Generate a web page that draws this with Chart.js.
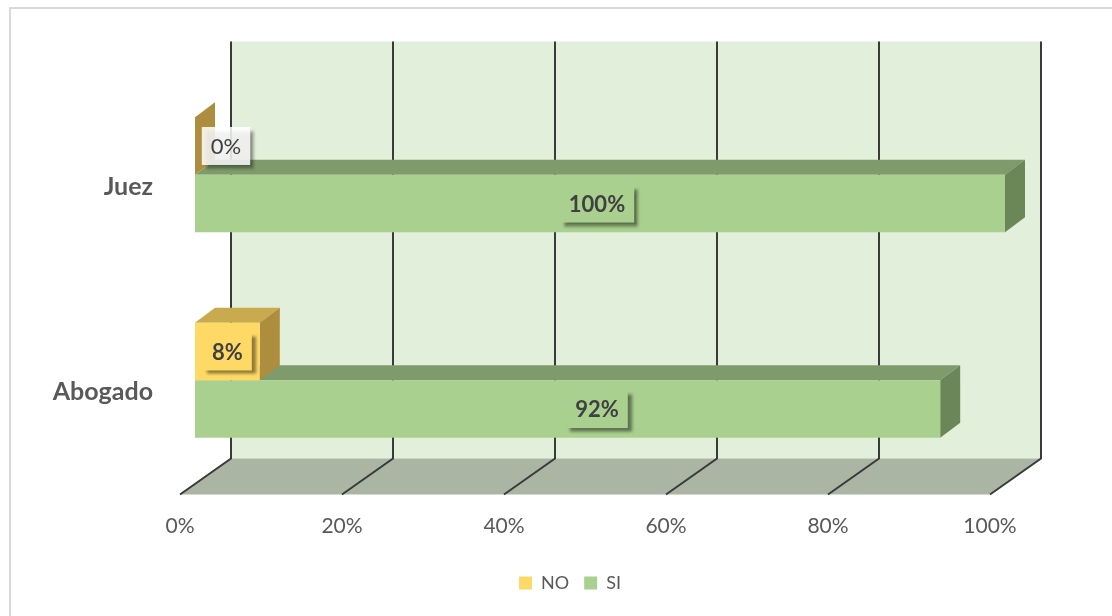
<!DOCTYPE html>
<html lang="es">
<head>
<meta charset="utf-8">
<title>Abogado / Juez</title>
<script src="https://cdn.jsdelivr.net/npm/chart.js@4.4.1/dist/chart.umd.min.js"></script>
<style>
  html, body { margin: 0; padding: 0; background: #fff; }
  #grafico { display: block; }
</style>
</head>
<body>
<canvas id="grafico" width="1112" height="616"></canvas>
<script>
// Datos del gráfico
const categorias = ['Juez', 'Abogado'];
const valoresNo = [0, 8];
const valoresSi = [100, 92];
const ticksX = [0, 20, 40, 60, 80, 100];

// Colores de cada cara de las barras
const coloresNo = { frente: '#FFD966', arriba: '#C9AA4E', lado: '#AD8E3E' };
const coloresSi = { frente: '#A9D08E', arriba: '#7F9B6B', lado: '#6B8757' };

const FUENTE = 'Lato, "Open Sans", sans-serif';
const PROF = { dx: 20, dy: -15 };   // profundidad de las barras
const PARED = { dx: 36, dyTop: -30.5, dyBottom: -24.5, piso: 11.5, frente: -15 };
const LEYENDA_DX = 47.5;            // corrimiento de la leyenda hacia la derecha

function poligono(ctx, pts, color) {
    ctx.beginPath();
    ctx.moveTo(pts[0][0], pts[0][1]);
    for (let i = 1; i < pts.length; i++) ctx.lineTo(pts[i][0], pts[i][1]);
    ctx.closePath();
    ctx.fillStyle = color;
    ctx.fill();
}

// ===================
// Pared del fondo, piso y líneas de división
// ===================
const fondo3D = {
    id: 'fondo3D',
    afterLayout(chart) {
        chart.legend.left += LEYENDA_DX;
        chart.legend.right += LEYENDA_DX;
    },
    beforeDraw(chart) {
        const ctx = chart.ctx;
        ctx.save();
        ctx.strokeStyle = '#D9D9D9';
        ctx.lineWidth = 2;
        ctx.strokeRect(10, 8, 1200, 700);
        ctx.restore();
    },
    beforeDatasetsDraw(chart) {
        const { ctx, chartArea: a, scales: { x } } = chart;
        const x0 = x.getPixelForValue(ticksX[0]);
        const x1 = x.getPixelForValue(ticksX[ticksX.length - 1]);
        const top = a.top + PARED.dyTop;
        const bottom = a.bottom + PARED.dyBottom;
        const frente = a.bottom + PARED.piso;

        ctx.save();
        ctx.fillStyle = '#E2EFDA';
        ctx.fillRect(x0 + PARED.dx, top, x1 - x0, bottom - top);

        poligono(ctx, [
            [x0 + PARED.dx, bottom], [x1 + PARED.dx, bottom],
            [x1 + PARED.frente, frente], [x0 + PARED.frente, frente]
        ], '#AAB5A3');

        ctx.strokeStyle = '#3A3A3A';
        ctx.lineWidth = 2;
        ticksX.forEach(v => {
            const px = x.getPixelForValue(v);
            ctx.beginPath();
            ctx.moveTo(px + PARED.dx, top);
            ctx.lineTo(px + PARED.dx, bottom);
            ctx.lineTo(px + PARED.frente, frente);
            ctx.stroke();
        });
        ctx.restore();
    },
    // caras superior y lateral antes de la cara frontal de cada serie
    beforeDatasetDraw(chart, args) {
        const ctx = chart.ctx;
        const col = chart.data.datasets[args.index].caras;
        ctx.save();
        args.meta.data.forEach(bar => {
            const { x, y, base, height } = bar.getProps(['x', 'y', 'base', 'height'], true);
            const t = y - height / 2, b = y + height / 2;
            const l = Math.min(x, base), r = Math.max(x, base);
            poligono(ctx, [[l, t], [l + PROF.dx, t + PROF.dy], [r + PROF.dx, t + PROF.dy], [r, t]], col.arriba);
            poligono(ctx, [[r, t], [r + PROF.dx, t + PROF.dy], [r + PROF.dx, b + PROF.dy], [r, b]], col.lado);
        });
        ctx.restore();
    }
};

// ===================
// Etiquetas de porcentaje con sombra
// ===================
const etiquetas = {
    id: 'etiquetas',
    afterDatasetsDraw(chart) {
        const { ctx, chartArea: a } = chart;
        ctx.save();
        chart.data.datasets.forEach((ds, di) => {
            const meta = chart.getDatasetMeta(di);
            meta.data.forEach((bar, i) => {
                const v = ds.data[i];
                const texto = v + '%';
                const cx = di === 1
                    ? (a.left + a.right) / 2 - 3
                    : Math.max((bar.x + bar.base) / 2, bar.base + 31);
                const cy = bar.y;
                ctx.font = (v > 0 ? 'bold ' : '') + '22px ' + FUENTE;
                const w = ctx.measureText(texto).width + 18;
                const h = 38;

                ctx.shadowColor = 'rgba(0,0,0,0.45)';
                ctx.shadowBlur = 3;
                ctx.shadowOffsetX = 4;
                ctx.shadowOffsetY = 4;
                ctx.fillStyle = v > 0 ? ds.caras.frente : 'rgba(255,255,255,0.85)';
                ctx.fillRect(cx - w / 2, cy - h / 2, w, h);

                ctx.shadowColor = 'transparent';
                ctx.fillStyle = '#404040';
                ctx.textAlign = 'center';
                ctx.textBaseline = 'middle';
                ctx.fillText(texto, cx, cy + 1);
            });
        });
        ctx.restore();
    }
};

const ctx = document.getElementById('grafico').getContext('2d');
const grafico = new Chart(ctx, {
    type: 'bar',
    data: {
        labels: categorias,
        datasets: [{
            label: 'NO',
            data: valoresNo,
            backgroundColor: coloresNo.frente,
            caras: coloresNo
        }, {
            label: 'SI',
            data: valoresSi,
            backgroundColor: coloresSi.frente,
            caras: coloresSi
        }]
    },
    options: {
        indexAxis: 'y',
        responsive: false,
        animation: false,
        borderWidth: 0,
        categoryPercentage: 0.56,
        barPercentage: 1,
        layout: {
            padding: { left: 40, right: 107, top: 72, bottom: 14 }
        },
        plugins: {
            tooltip: { enabled: false },
            legend: {
                position: 'bottom',
                labels: {
                    boxWidth: 13,
                    boxHeight: 13,
                    padding: 15,
                    color: '#595959',
                    font: { family: FUENTE, size: 18 }
                }
            }
        },
        scales: {
            x: {
                min: 0,
                max: 100,
                afterBuildTicks: s => { s.ticks = ticksX.map(v => ({ value: v })); },
                afterFit: s => { s.height = 76; },
                grid: { display: false, drawTicks: false },
                border: { display: false },
                ticks: {
                    padding: 31,
                    labelOffset: PARED.frente,
                    color: '#595959',
                    font: { family: FUENTE, size: 21 },
                    callback: v => v + '%'
                }
            },
            y: {
                afterFit: s => { s.width = 155; },
                grid: { display: false, drawTicks: false },
                border: { display: false },
                ticks: {
                    padding: 42,
                    labelOffset: 12,
                    color: '#595959',
                    font: { family: FUENTE, size: 25, weight: 'bold' }
                }
            }
        }
    },
    plugins: [fondo3D, etiquetas]
});
</script>
</body>
</html>
